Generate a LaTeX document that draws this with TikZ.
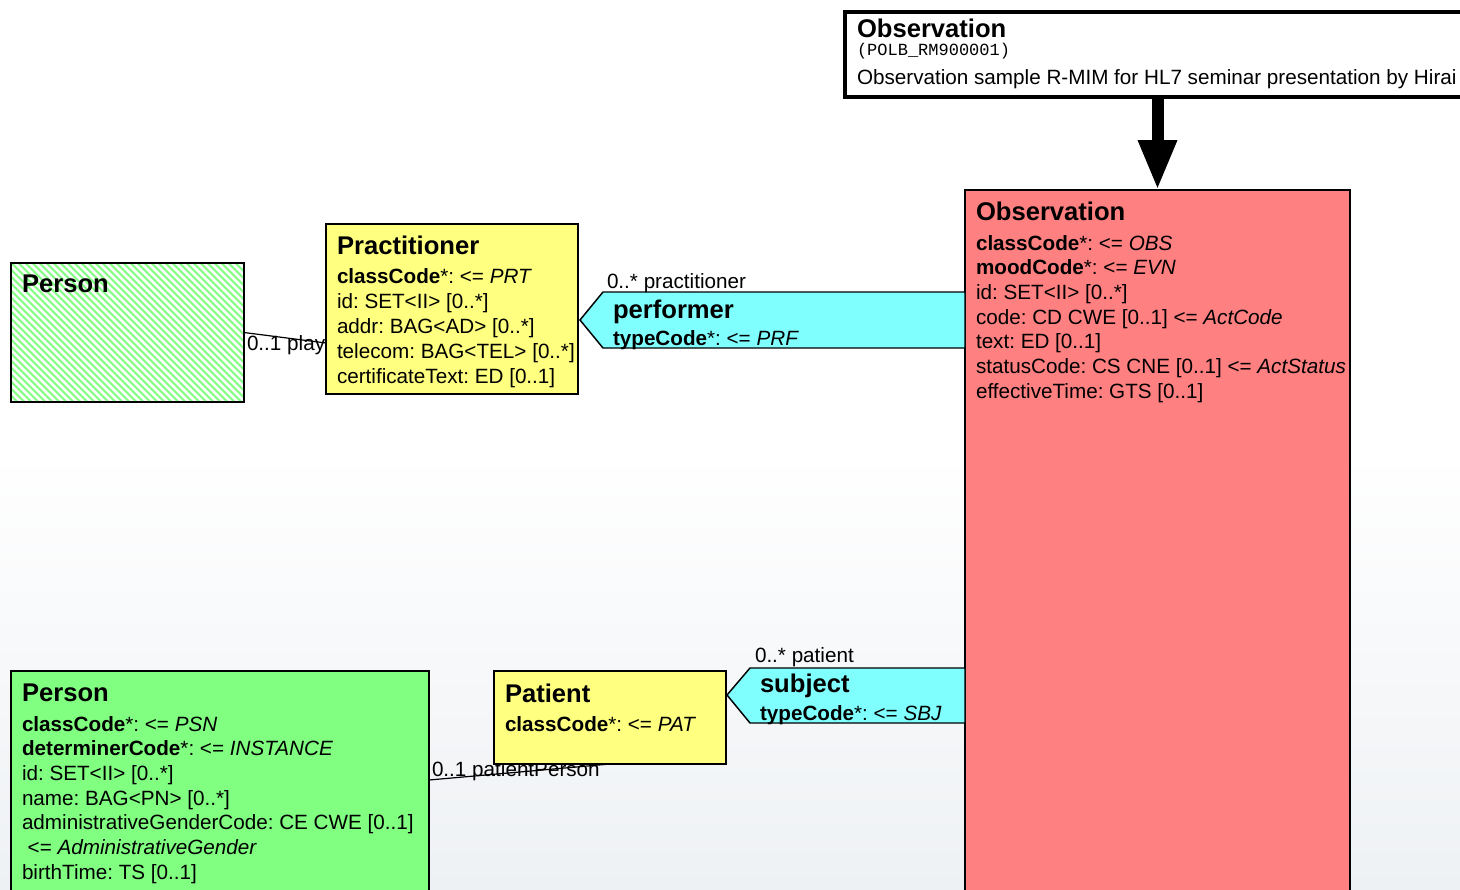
\documentclass[tikz,border=0pt]{standalone}
\usepackage{fontspec}
\setmainfont{Liberation Sans}
\setmonofont{Liberation Mono}
\usetikzlibrary{calc,arrows.meta}
\frenchspacing
\definecolor{obsred}{HTML}{FF8080}
\definecolor{roleyel}{HTML}{FFFF80}
\definecolor{entgreen}{HTML}{80FF80}
\definecolor{partcyan}{HTML}{80FFFF}
\definecolor{bgbottom}{HTML}{EEF1F4}
\pgfdeclarelayer{bglayer}
\pgfdeclarelayer{connlayer}
\pgfsetlayers{bglayer,connlayer,main}
\tikzset{
  clsbox/.style={draw=black, line width=1.1pt, anchor=north west, inner sep=0pt, outer sep=0pt},
  txt/.style={anchor=base west, inner sep=0pt, outer sep=0pt, font=\fontsize{15.5}{18}\selectfont},
  ttl/.style={anchor=base west, inner sep=0pt, outer sep=0pt, font=\fontsize{19.2}{22}\selectfont\bfseries},
  monotxt/.style={anchor=base west, inner sep=0pt, outer sep=0pt, font=\fontsize{12.75}{15}\selectfont\ttfamily},
  conn/.style={draw=black, line width=0.9pt},
  partshape/.style={draw=black, line width=1.1pt, fill=partcyan},
}
\begin{document}
\begin{tikzpicture}[x=0.75pt,y=-0.75pt]
\useasboundingbox (0,0) rectangle (1460,889);
\clip (0,0) rectangle (1460,889);
\begin{pgfonlayer}{bglayer}
  \fill[white] (0,0) rectangle (1460,889);
  \shade[top color=white, bottom color=bgbottom] (0,450) rectangle (1460,889);
\end{pgfonlayer}

% header
\node[clsbox, line width=3pt, fill=white, minimum width=472.5pt, minimum height=63.75pt] (hdr) at (845,12) {};
\node[ttl] (hdrT) at (857,37) {Observation};
\node[monotxt] (hdrC) at (857,55) {(POLB\_RM900001)};
\node[txt] (hdrD) at (857,84) {Observation sample R-MIM for HL7 seminar presentation by Hirai};

% Observation act
\node[clsbox, fill=obsred, minimum width=288.75pt, minimum height=532.5pt] (obs) at (965,190) {};
\node[ttl] (obsT) at (976,220) {Observation};
\foreach \t [count=\i from 0] in {
  {\textbf{classCode}*: <= \textit{OBS}},
  {\textbf{moodCode}*: <= \textit{EVN}},
  {id: SET<II> [0..*]},
  {code: CD CWE [0..1] <= \textit{ActCode}},
  {text: ED [0..1]},
  {statusCode: CS CNE [0..1] <= \textit{ActStatus}},
  {effectiveTime: GTS [0..1]}}
  \node[txt] (obsA\i) at (976,{250+24.67*\i}) {\t};

% entry arrow
\draw[line width=9pt, -{Triangle[width=27pt,length=37.5pt]}] (obs.north |- hdr.south) -- (obs.north);

% Practitioner role
\node[clsbox, fill=roleyel, minimum width=189pt, minimum height=127.5pt] (prac) at (326,224) {};
\node[ttl] (pracT) at (337,254) {Practitioner};
\foreach \t [count=\i from 0] in {
  {\textbf{classCode}*: <= \textit{PRT}},
  {id: SET<II> [0..*]},
  {addr: BAG<AD> [0..*]},
  {telecom: BAG<TEL> [0..*]},
  {certificateText: ED [0..1]}}
  \node[txt] (pracA\i) at (337,{283+25*\i}) {\t};

% Person (hatched, reference)
\begin{scope}
  \clip (11,263) rectangle (244,402);
  \fill[entgreen] (11,263) rectangle (244,402);
  \foreach \k in {-160,-153,...,260}
    \draw[white, line width=1.9pt] (\k,263) -- ++(150,150);
\end{scope}
\node[clsbox, minimum width=174.75pt, minimum height=104.25pt] (persA) at (11,263) {};
\node[ttl] (persAT) at (22,292) {Person};

% performer participation
\draw[partshape] (580,320) -- (603,292) -- (965,292) -- (965,348) -- (603,348) -- cycle;
\node[ttl] (perfT) at (613,318) {performer};
\node[txt] (perfA) at (613,345) {\textbf{typeCode}*: <= \textit{PRF}};
\node[txt] (perfL) at (607,288) {0..* practitioner};

% Patient role
\node[clsbox, fill=roleyel, minimum width=174pt, minimum height=69.75pt] (pat) at (494,671) {};
\node[ttl] (patT) at (505,702) {Patient};
\node[txt] (patA) at (505,731) {\textbf{classCode}*: <= \textit{PAT}};

% subject participation
\draw[partshape] (727,695) -- (750,668) -- (965,668) -- (965,723) -- (750,723) -- cycle;
\node[ttl] (subjT) at (760,692) {subject};
\node[txt] (subjA) at (760,720) {\textbf{typeCode}*: <= \textit{SBJ}};
\node[txt] (subjL) at (755,662) {0..* patient};

% Person entity
\node[clsbox, fill=entgreen, minimum width=313.5pt, minimum height=171.75pt] (persB) at (11,671) {};
\node[ttl] (persBT) at (22,701) {Person};
\foreach \t [count=\i from 0] in {
  {\textbf{classCode}*: <= \textit{PSN}},
  {\textbf{determinerCode}*: <= \textit{INSTANCE}},
  {id: SET<II> [0..*]},
  {name: BAG<PN> [0..*]},
  {administrativeGenderCode: CE CWE [0..1]},
  {\ <= \textit{AdministrativeGender}},
  {birthTime: TS [0..1]}}
  \node[txt] (persBA\i) at (22,{731+24.67*\i}) {\t};

% connectors on the layer below the boxes
\begin{pgfonlayer}{connlayer}
  \draw[conn] (persA.east) -- ($(prac.west)+(0,34)$);
  \node[txt] (playL) at (247,350) {0..1 player};
  \node[txt] (ppL) at (432,776) {0..1 patientPerson};
  \draw[conn] ($(persB.north east)+(0,109)$) -- (pat.south);
\end{pgfonlayer}
\end{tikzpicture}
\end{document}
